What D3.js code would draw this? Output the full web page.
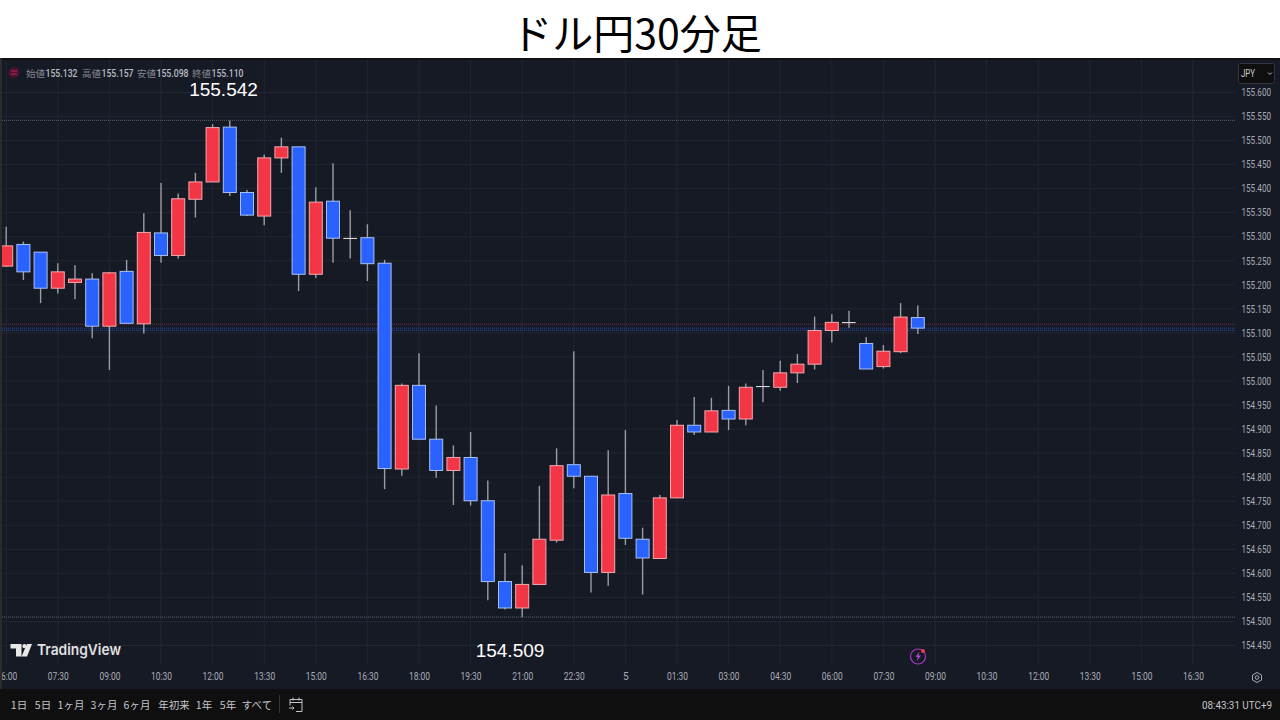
<!DOCTYPE html>
<html>
<head>
<meta charset="utf-8">
<script src="https://cdn.jsdelivr.net/npm/d3@7"></script>
<style>
  html, body { margin: 0; padding: 0; background: #fff; }
  svg { display: block; }
  .cjk { font-family: "Noto Sans CJK JP", sans-serif; }
  .num { font-family: Roboto, sans-serif; }
</style>
</head>
<body>
<svg id="chart" width="1280" height="720"></svg>
<script>
// USD/JPY 30 minute bars
const opens = [155.239,155.284,155.268,155.193,155.205,155.212,155.114,155.228,155.119,155.308,155.261,155.378,155.414,155.528,155.392,155.343,155.464,155.487,155.222,155.374,155.297,155.298,155.245,154.817,154.991,154.879,154.814,154.841,154.751,154.583,154.528,154.577,154.669,154.826,154.802,154.602,154.766,154.671,154.631,154.757,154.908,154.894,154.939,154.921,154.989,154.987,155.017,155.035,155.105,155.121,155.078,155.030,155.061,155.132];
const highs = [155.321,155.290,155.268,155.245,155.241,155.224,155.227,155.252,155.349,155.412,155.390,155.433,155.534,155.542,155.397,155.471,155.506,155.487,155.403,155.453,155.355,155.326,155.252,154.995,155.058,154.949,154.866,154.894,154.793,154.642,154.617,154.782,154.860,155.062,154.802,154.856,154.898,154.695,154.763,154.919,154.967,154.965,154.990,154.995,155.023,155.042,155.056,155.134,155.139,155.146,155.091,155.075,155.162,155.157];
const lows = [155.237,155.210,155.162,155.182,155.170,155.089,155.023,155.120,155.099,155.246,155.255,155.340,155.414,155.385,155.343,155.324,155.433,155.187,155.214,155.246,155.255,155.208,154.775,154.803,154.879,154.799,154.742,154.741,154.544,154.525,154.509,154.577,154.664,154.777,154.560,154.574,154.659,154.556,154.631,154.757,154.888,154.894,154.898,154.908,154.956,154.980,154.996,155.024,155.080,155.111,155.025,155.026,155.058,155.098];
const closes = [155.281,155.227,155.193,155.227,155.212,155.114,155.225,155.120,155.309,155.261,155.379,155.414,155.527,155.392,155.345,155.464,155.487,155.222,155.372,155.297,155.296,155.244,154.818,154.991,154.879,154.814,154.841,154.751,154.583,154.528,154.577,154.671,154.824,154.802,154.602,154.763,154.673,154.632,154.757,154.908,154.894,154.938,154.921,154.987,154.989,155.017,155.035,155.105,155.122,155.122,155.025,155.062,155.133,155.110];

const timeLabels = ["06:00","07:30","09:00","10:30","12:00","13:30","15:00","16:30","18:00","19:30","21:00","22:30","5","01:30","03:00","04:30","06:00","07:30","09:00","10:30","12:00","13:30","15:00","16:30"];
const priceTicks = [155.6,155.55,155.5,155.45,155.4,155.35,155.3,155.25,155.2,155.15,155.1,155.05,155.0,154.95,154.9,154.85,154.8,154.75,154.7,154.65,154.6,154.55,154.5,154.45];
const rangeButtons = [["1日",19],["5日",43],["1ヶ月",71],["3ヶ月",104],["6ヶ月",137],["年初来",174],["1年",204],["5年",228],["すべて",257]];
const legendItems = [["始値","155.132",26],["高値","155.157",82],["安値","155.098",137],["終値","155.110",192]];
const dottedLines = [[155.542,"#5a5e68"],[154.509,"#5a5e68"],[155.118,"#6e3042"],[155.110,"#2a4288"],[155.105,"#2a4288"]];

const BG = "#161a25", GRID = "#222631", TEXT = "#a9acb5";
const UP = "#f23645", DOWN = "#2962ff", UP_EDGE = "#f4a9b0", DOWN_EDGE = "#a8c0f5", DOJI = "#d5d6da";
const barStep = 3; // a time label every 3 bars

const svg = d3.select("#chart");

const x = d3.scaleLinear().domain([0, 69]).range([6.2, 1193]);
const y = d3.scaleLinear().domain([155.6, 154.45]).range([92.5, 645.5]);

// white title band and panels
svg.append("rect").attr("width", 1280).attr("height", 720).attr("fill", "#fff");
svg.append("rect").attr("y", 58).attr("width", 1280).attr("height", 631).attr("fill", BG);
svg.append("rect").attr("y", 58).attr("width", 1280).attr("height", 2).attr("fill", "#0e1016");
svg.append("rect").attr("y", 58).attr("width", 2).attr("height", 631).attr("fill", "#2b2b2b");
svg.append("rect").attr("y", 689).attr("width", 1280).attr("height", 31).attr("fill", "#0f0f0f");

svg.append("text")
  .attr("class", "cjk")
  .attr("x", 636.5)
  .attr("y", 49)
  .attr("text-anchor", "middle")
  .attr("font-size", 41)
  .attr("fill", "#000")
  .text("ドル円30分足");

svg.append("clipPath").attr("id", "plot-clip")
  .append("rect").attr("x", 2).attr("y", 58).attr("width", 1278).attr("height", 631);
const plot = svg.append("g").attr("clip-path", "url(#plot-clip)");

// grid
const timeTicks = timeLabels.map((d, i) => i * barStep);
plot.append("g").selectAll("line").data(timeTicks).join("line")
  .attr("x1", d => x(d)).attr("x2", d => x(d))
  .attr("y1", 60).attr("y2", 665)
  .attr("stroke", GRID);
plot.append("g").selectAll("line").data(priceTicks).join("line")
  .attr("x1", 2).attr("x2", 1235)
  .attr("y1", d => y(d)).attr("y2", d => y(d))
  .attr("stroke", GRID);

// dotted price lines
plot.append("rect")
  .attr("x", 2).attr("width", 1233)
  .attr("y", y(155.110)).attr("height", y(155.105) - y(155.110))
  .attr("fill", "#2962ff").attr("opacity", 0.1);
plot.append("g").selectAll("line").data(dottedLines).join("line")
  .attr("x1", 2).attr("x2", 1235)
  .attr("y1", d => y(d[0])).attr("y2", d => y(d[0]))
  .attr("stroke", d => d[1])
  .attr("stroke-dasharray", "1 1");

// candles, a body under 2 pips is a doji and shows as a pale bar
const isDoji = d => Math.abs(d.c - d.o) < 0.002;
const candles = opens.map((o, i) => ({ i, o, h: highs[i], l: lows[i], c: closes[i] }));
const bar = plot.append("g").selectAll("g").data(candles).join("g");
bar.append("line")
  .attr("x1", d => x(d.i)).attr("x2", d => x(d.i))
  .attr("y1", d => y(d.h)).attr("y2", d => y(d.l))
  .attr("stroke", "#9a9da6")
  .attr("stroke-width", 1.4);
bar.append("rect")
  .attr("x", d => x(d.i) - 6.5)
  .attr("width", 13)
  .attr("y", d => y(Math.max(d.o, d.c)))
  .attr("height", d => isDoji(d) ? 0.5 : Math.abs(y(d.o) - y(d.c)))
  .attr("fill", d => isDoji(d) ? DOJI : d.c >= d.o ? UP : DOWN)
  .attr("stroke", d => isDoji(d) ? DOJI : d.c >= d.o ? UP_EDGE : DOWN_EDGE)
  .attr("stroke-width", d => isDoji(d) ? 0.6 : 1);

// time axis
const timeAxis = d3.axisBottom(x)
  .tickValues(timeTicks)
  .tickSize(0)
  .tickFormat((d, i) => timeLabels[i]);
const gx = plot.append("g").attr("transform", "translate(0,673)").call(timeAxis);
gx.select(".domain").remove();
gx.selectAll("text")
  .attr("class", "num")
  .attr("font-size", 10)
  .attr("fill", TEXT)
  .attr("dy", "0.71em")
  .attr("y", 0)
  .filter((d, i) => timeLabels[i].length === 5)
  .attr("textLength", 21)
  .attr("lengthAdjust", "spacingAndGlyphs");

// price axis
const priceAxis = d3.axisRight(y)
  .tickValues(priceTicks)
  .tickSize(0)
  .tickFormat(d3.format(".3f"));
const gy = svg.append("g").attr("transform", "translate(1241.5,0)").call(priceAxis);
gy.select(".domain").remove();
gy.selectAll("text")
  .attr("class", "num")
  .attr("x", 0)
  .attr("font-size", 10)
  .attr("fill", TEXT)
  .attr("textLength", 29.5)
  .attr("lengthAdjust", "spacingAndGlyphs");

// high / low annotations
const notes = [["155.542", 223.5, 95.5], ["154.509", 510, 656.5]];
svg.append("g").selectAll("text").data(notes).join("text")
  .attr("x", d => d[1]).attr("y", d => d[2])
  .attr("text-anchor", "middle")
  .attr("font-family", "Liberation Sans, sans-serif")
  .attr("font-size", 19)
  .attr("fill", "#fff")
  .text(d => d[0]);

// OHLC legend
const legend = svg.append("g").selectAll("g").data(legendItems).join("g");
legend.append("text")
  .attr("class", "cjk")
  .attr("x", d => d[2]).attr("y", 77)
  .attr("font-size", 9.5)
  .attr("fill", "#83868f")
  .text(d => d[0]);
legend.append("text")
  .attr("class", "num")
  .attr("x", d => d[2] + 19.5).attr("y", 77)
  .attr("font-size", 10)
  .attr("font-weight", 500)
  .attr("fill", "#b9bcc4")
  .attr("textLength", 32)
  .attr("lengthAdjust", "spacingAndGlyphs")
  .text(d => d[1]);
svg.append("circle").attr("cx", 14).attr("cy", 72.5).attr("r", 5.5).attr("fill", "#4a1430");
svg.append("path").attr("d", "M11 71h6M11 74h6").attr("stroke", "#c2245c").attr("fill", "none");

// currency box
svg.append("rect")
  .attr("x", 1238.5).attr("y", 63.5).attr("width", 36).attr("height", 20).attr("rx", 2)
  .attr("fill", "#0f0f0f").attr("stroke", "#33363f");
svg.append("text").attr("class", "num")
  .attr("x", 1241).attr("y", 76.5)
  .attr("font-size", 10).attr("fill", "#c8cbd2")
  .attr("textLength", 14).attr("lengthAdjust", "spacingAndGlyphs")
  .text("JPY");
svg.append("path").attr("d", "M1268 72.5l2 2 2-2").attr("stroke", "#b2b5be").attr("fill", "none");

// TradingView logo
svg.append("path")
  .attr("d", "M10.5 644h11v12.5h-5.5v-8h-5.5zM27 644h5l-5 12.5h-5.5z")
  .attr("fill", "#e8e8e8");
svg.append("circle").attr("cx", 24.5).attr("cy", 646.2).attr("r", 2.1).attr("fill", "#e8e8e8");
svg.append("text")
  .attr("x", 37).attr("y", 655)
  .attr("font-family", "Inter, sans-serif")
  .attr("font-size", 15)
  .attr("font-weight", 600)
  .attr("fill", "#e0e0e0")
  .attr("textLength", 84)
  .attr("lengthAdjust", "spacingAndGlyphs")
  .text("TradingView");

// bolt badge
svg.append("circle").attr("cx", 918).attr("cy", 656.5).attr("r", 7.5)
  .attr("fill", "none").attr("stroke", "#a23bc0").attr("stroke-width", 1.2);
svg.append("path").attr("d", "M919.5 651.5l-4 5.5h2.5l-1.5 4.5 4.5-6h-2.5z").attr("fill", "#b04bd6");
svg.append("circle").attr("cx", 923).attr("cy", 651).attr("r", 2).attr("fill", "#f23645");

// settings hexagon
svg.append("path")
  .attr("d", "M1257 672.5l4.5 2.5v5l-4.5 2.5-4.5-2.5v-5z")
  .attr("fill", "none").attr("stroke", TEXT);
svg.append("circle").attr("cx", 1257).attr("cy", 677.5).attr("r", 1.8)
  .attr("fill", "none").attr("stroke", TEXT);

// bottom toolbar
svg.append("g").selectAll("text").data(rangeButtons).join("text")
  .attr("class", "cjk")
  .attr("x", d => d[1]).attr("y", 709)
  .attr("text-anchor", "middle")
  .attr("font-size", 10.5)
  .attr("fill", "#c4c6cc")
  .text(d => d[0]);
svg.append("line").attr("x1", 279.5).attr("x2", 279.5).attr("y1", 695).attr("y2", 713).attr("stroke", "#33363f");
svg.append("path")
  .attr("d", "M290 699.5h12v12h-6M290 699.5v3h12M290 702.5v3M293 697.5v3M299 697.5v3M289 708h5l-1.5-1.5M294 708l-1.5 1.5")
  .attr("fill", "none").attr("stroke", "#c4c6cc");
svg.append("text").attr("class", "num")
  .attr("x", 1202).attr("y", 709)
  .attr("font-size", 10.5)
  .attr("fill", "#c4c6cc")
  .attr("textLength", 70)
  .attr("lengthAdjust", "spacingAndGlyphs")
  .text("08:43:31 UTC+9");
</script>
</body>
</html>
